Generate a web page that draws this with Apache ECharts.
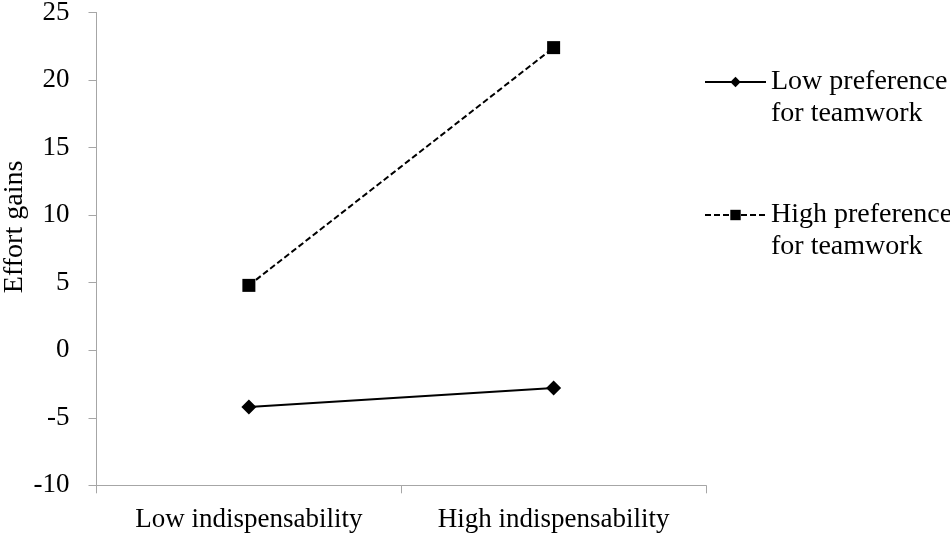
<!DOCTYPE html>
<html>
<head>
<meta charset="utf-8">
<script src="https://cdn.jsdelivr.net/npm/echarts@6/dist/echarts.min.js"></script>
<style>html,body{margin:0;padding:0;background:#fff}#c{width:950px;height:535px}</style>
</head>
<body>
<div id="c"></div>
<script>
var categories = ['Low indispensability', 'High indispensability'];
var lowPref = [-4.2, -2.8];
var highPref = [4.8, 22.4];
var seriesNames = ['Low preference\nfor teamwork', 'High preference\nfor teamwork'];
var yTicks = {min: -10, max: 25, interval: 5};

var FONT = 'Liberation Serif';
var axisGray = '#a6a6a6';
var chart = echarts.init(document.getElementById('c'), null, {renderer: 'canvas'});
chart.setOption({
  animation: false,
  backgroundColor: '#fff',
  grid: {left: 96.5, right: 244, top: 12.5, bottom: 49.7, containLabel: false, outerBoundsMode: 'none'},
  xAxis: {
    type: 'category',
    data: categories,
    boundaryGap: true,
    axisLine: {onZero: false, lineStyle: {color: axisGray, width: 1}},
    axisTick: {show: true, length: 8, lineStyle: {color: axisGray}},
    axisLabel: {color: '#000', fontFamily: FONT, fontSize: 27, margin: 21, interval: 0, hideOverlap: false},
    splitLine: {show: false}
  },
  yAxis: {
    type: 'value',
    min: yTicks.min, max: yTicks.max, interval: yTicks.interval,
    name: 'Effort gains',
    nameLocation: 'middle',
    nameGap: 68,
    nameMoveOverlap: false,
    nameTextStyle: {color: '#000', fontFamily: FONT, fontSize: 28, padding: [0, 0, 0, 44]},
    axisLine: {show: true, lineStyle: {color: axisGray, width: 1}},
    axisTick: {show: true, length: 8, lineStyle: {color: axisGray}},
    axisLabel: {color: '#000', fontFamily: FONT, fontSize: 27, margin: 27},
    splitLine: {show: false}
  },
  legend: {
    orient: 'vertical',
    left: 704,
    top: 34,
    padding: 0,
    itemWidth: 61,
    itemHeight: 13,
    itemGap: 37,
    formatter: function (n) { return ' \n' + n; },
    textStyle: {color: '#000', fontFamily: FONT, fontSize: 28, lineHeight: 32},
    data: seriesNames
  },
  series: [
    {
      name: seriesNames[0], type: 'line', data: lowPref,
      symbol: 'diamond', symbolSize: 15,
      lineStyle: {color: '#000', width: 2, type: 'solid'},
      itemStyle: {color: '#000'}
    },
    {
      name: seriesNames[1], type: 'line', data: highPref,
      symbol: 'rect', symbolSize: 13,
      lineStyle: {color: '#000', width: 2, type: [6, 3]},
      itemStyle: {color: '#000'}
    }
  ]
});
</script>
</body>
</html>
